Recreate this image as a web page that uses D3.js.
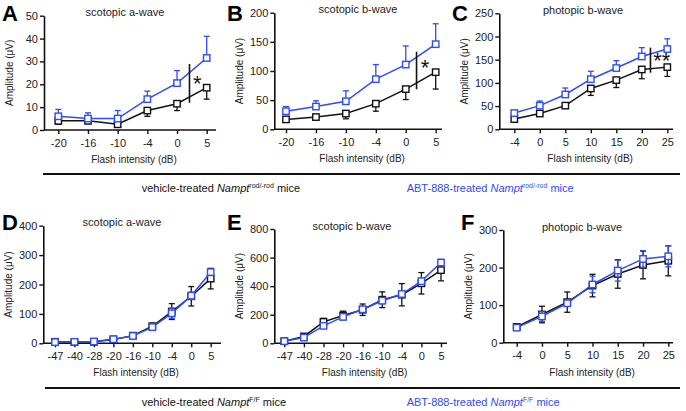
<!DOCTYPE html>
<html><head><meta charset="utf-8">
<script src="https://cdn.jsdelivr.net/npm/d3@7"></script>
<style>
html,body{margin:0;padding:0;background:#fff;}
svg{display:block;font-family:"Liberation Sans",Arial,sans-serif;}
</style></head>
<body><svg id="c" width="686" height="411"></svg>
<script>
// ---------- data ----------
const rodX = ["-20","-16","-10","-4","0","5"];
const photX = ["-4","0","5","10","15","20","25"];
const floxX = ["-47","-40","-28","-20","-16","-10","-4","0","5"];

const aVeh = [4, 4, 2.5, 8.5, 11.5, 18.5];
const aVehErr = [1.5, 1, 1, 2.5, 3, 5];
const aABT = [6, 5, 5, 13.5, 20.5, 31.5];
const aABTErr = [3, 2.5, 3.5, 3.5, 5.5, 9.5];

const bVeh = [17, 21, 27, 44, 69, 98];
const bVehErr = [4, 3, 9, 13, 18, 29];
const bABT = [31, 39, 48, 86, 111, 146];
const bABTErr = [8, 10, 18, 25, 32, 35];

const cVeh = [22, 34, 51, 88, 106, 129, 134];
const cVehErr = [3, 3, 6, 15, 16, 20, 20];
const cABT = [35, 51, 75, 108, 132, 157, 173];
const cABTErr = [5, 10, 14, 17, 16, 19, 22];

const dVeh = [5, 4, 5, 13, 26, 58, 108, 160, 220];
const dVehErr = [3, 3, 3, 4, 6, 10, 27, 33, 35];
const dABT = [4, 5, 6, 14, 25, 55, 102, 162, 242];
const dABTErr = [2, 2, 2, 3, 4, 6, 17, 12, 10];

const eVeh = [15, 48, 150, 195, 235, 305, 340, 420, 512];
const eVehErr = [8, 10, 25, 30, 40, 55, 78, 75, 75];
const eABT = [15, 40, 122, 185, 238, 298, 345, 435, 565];
const eABTErr = [5, 8, 10, 15, 15, 20, 15, 20, 18];

const fVeh = [42, 75, 108, 152, 183, 207, 218];
const fVehErr = [5, 22, 27, 30, 38, 37, 40];
const fABT = [40, 70, 105, 155, 192, 223, 230];
const fABTErr = [4, 13, 5, 22, 28, 22, 28];

const aTicks = [0,10,20,30,40,50];
const bTicks = [0,50,100,150,200];
const cTicks = [0,50,100,150,200,250];
const dTicks = [0,100,200,300,400];
const eTicks = [0,200,400,600,800];
const fTicks = [0,100,200,300];

const titles = ["scotopic a-wave","scotopic b-wave","photopic b-wave","scotopic a-wave","scotopic b-wave","photopic b-wave"];
const letters = ["A","B","C","D","E","F"];

const BLUE = "#2f4cf5", BLACK = "#111";

// ---------- layout ----------
const panels = [
 {cats:rodX, veh:aVeh, vehE:aVehErr, abt:aABT, abtE:aABTErr, ticks:aTicks, ax:44, top:15.7, bot:130, x0:58.3, x1:206.7, xEnd:216, lx:2, ly:21, titleX:125, oneSided:true,
  sig:{i:4, f:0.42, lo:11.9, hi:28.9, sf:0.68, sy:21.5, text:"*"}},
 {cats:rodX, veh:bVeh, vehE:bVehErr, abt:bABT, abtE:bABTErr, ticks:bTicks, ax:274.3, top:12.7, bot:129.3, x0:286, x1:435.7, xEnd:442, lx:227, ly:21, titleX:358, oneSided:true,
  sig:{i:4, f:0.36, lo:68.6, hi:133, sf:0.64, sy:110, text:"*"}},
 {cats:photX, veh:cVeh, vehE:cVehErr, abt:cABT, abtE:cABTErr, ticks:cTicks, ax:499.3, top:13.3, bot:129.3, x0:514.3, x1:667.3, xEnd:673, lx:452, ly:21, titleX:583, oneSided:true,
  sig:{i:5, f:0.34, lo:122, hi:176, sf:0.78, sy:153, text:"**"}},
 {cats:floxX, veh:dVeh, vehE:dVehErr, abt:dABT, abtE:dABTErr, ticks:dTicks, ax:43.3, top:225.7, bot:343.3, x0:55, x1:210.7, xEnd:221, lx:2, ly:230, titleX:122, oneSided:false},
 {cats:floxX, veh:eVeh, vehE:eVehErr, abt:eABT, abtE:eABTErr, ticks:eTicks, ax:274.3, top:229, bot:343.3, x0:284.3, x1:441, xEnd:447, lx:227, ly:230, titleX:352, oneSided:false},
 {cats:photX, veh:fVeh, vehE:fVehErr, abt:fABT, abtE:fABTErr, ticks:fTicks, ax:503.3, top:230, bot:342.7, x0:516.7, x1:668.3, xEnd:673, lx:461, ly:230, titleX:582, oneSided:false}
];

const svg = d3.select("#c");

panels.forEach((p, k) => {
  const g = svg.append("g");
  const x = d3.scalePoint().domain(p.cats).range([p.x0, p.x1]);
  const y = d3.scaleLinear().domain([0, p.ticks[p.ticks.length-1]]).range([p.bot, p.top]);

  // y axis
  const ya = g.append("g").attr("transform", `translate(${p.ax},0)`)
    .call(d3.axisLeft(y).tickValues(p.ticks).tickSize(4).tickPadding(2).tickSizeOuter(0));
  ya.select(".domain").attr("stroke", BLACK).attr("stroke-width", 1.6);
  ya.selectAll(".tick line").attr("stroke", BLACK).attr("stroke-width", 1.4);
  ya.selectAll(".tick text").attr("font-size", 11).attr("fill", "#222")
    .attr("font-family", "Liberation Sans, Arial, sans-serif");

  // x axis
  const xa = g.append("g").attr("transform", `translate(0,${p.bot})`)
    .call(d3.axisBottom(x).tickSize(4).tickPadding(5).tickSizeOuter(0));
  xa.select(".domain").attr("d", `M${p.ax},0H${p.xEnd}`).attr("stroke", BLACK).attr("stroke-width", 1.6);
  xa.selectAll(".tick line").attr("stroke", BLACK).attr("stroke-width", 1.4);
  xa.selectAll(".tick text").attr("font-size", 11).attr("fill", "#222")
    .attr("font-family", "Liberation Sans, Arial, sans-serif");

  // axis titles
  g.append("text").attr("x", (p.ax + p.xEnd)/2 + 4).attr("y", p.bot + 33)
    .attr("text-anchor","middle").attr("font-size", 10).attr("fill","#222").text("Flash intensity (dB)");
  g.append("text").attr("transform", `translate(${p.ax - 31},${(p.top+p.bot)/2}) rotate(-90)`)
    .attr("text-anchor","middle").attr("font-size", 10).attr("fill","#222").text("Amplitude (μV)");

  // title & letter
  g.append("text").attr("x", p.titleX).attr("y", p.top + 0.5)
    .attr("text-anchor","middle").attr("font-size", 11).attr("fill","#222").text(titles[k]);
  g.append("text").attr("x", p.lx).attr("y", p.ly)
    .attr("font-size", 22).attr("font-weight","bold").attr("fill","#000").text(letters[k]);

  // series
  const series = [
    {v:p.veh, e:p.vehE, c:BLACK, dir:-1},
    {v:p.abt, e:p.abtE, c:BLUE, dir:1}
  ];
  series.forEach(s => {
    const pts = p.cats.map((c,i) => ({c, v:s.v[i], e:s.e[i]}));
    const eb = g.append("g").attr("stroke", s.c).attr("stroke-width", 1.3).attr("fill","none");
    pts.forEach(d => {
      const cx = x(d.c);
      const ends = p.oneSided ? [d.v + s.dir*d.e] : [d.v + d.e, d.v - d.e];
      ends.forEach(ev => {
        eb.append("line").attr("x1", cx).attr("x2", cx).attr("y1", y(d.v)).attr("y2", y(Math.max(0, ev)));
        eb.append("line").attr("x1", cx-3).attr("x2", cx+3).attr("y1", y(Math.max(0,ev))).attr("y2", y(Math.max(0,ev)));
      });
    });
    g.append("path").datum(pts).attr("fill","none").attr("stroke", s.c).attr("stroke-width", 1.5)
      .attr("d", d3.line().x(d => x(d.c)).y(d => y(d.v)));
    g.selectAll(null).data(pts).enter().append("rect")
      .attr("x", d => x(d.c) - 3.2).attr("y", d => y(d.v) - 3.2)
      .attr("width", 6.4).attr("height", 6.4)
      .attr("fill", "#fff").attr("stroke", s.c).attr("stroke-width", 1.4);
  });

  // significance
  if (p.sig) {
    const step = x.step();
    const sx = x(p.cats[p.sig.i]) + p.sig.f*step;
    g.append("line").attr("x1", sx).attr("x2", sx).attr("y1", y(p.sig.lo)).attr("y2", y(p.sig.hi))
      .attr("stroke", BLACK).attr("stroke-width", 1.6);
    g.append("text").attr("x", x(p.cats[p.sig.i]) + p.sig.sf*step).attr("y", y(p.sig.sy) + 10)
      .attr("text-anchor","middle").attr("font-size", 22).attr("fill","#111").text(p.sig.text);
  }
});

// separator lines
svg.append("line").attr("x1", 43).attr("x2", 680).attr("y1", 174).attr("y2", 174).attr("stroke","#111").attr("stroke-width",1.8);
svg.append("line").attr("x1", 45).attr("x2", 680).attr("y1", 388).attr("y2", 388).attr("stroke","#111").attr("stroke-width",1.8);

// group labels
function label(xp, yp, color, prefix, sup) {
  const t = svg.append("text").attr("x", xp).attr("y", yp).attr("font-size", 11).attr("fill", color);
  t.append("tspan").text(prefix);
  t.append("tspan").attr("font-style","italic").text("Nampt");
  t.append("tspan").attr("font-size", 7).attr("dy", -4).text(sup);
  t.append("tspan").attr("dy", 4).text(" mice");
}
label(141.7, 192, "#111", "vehicle-treated ", "rod/-rod");
label(406.7, 192, BLUE, "ABT-888-treated ", "rod/-rod");
label(141.7, 406, "#111", "vehicle-treated ", "F/F");
label(406.7, 406, BLUE, "ABT-888-treated ", "F/F");
</script></body></html>
